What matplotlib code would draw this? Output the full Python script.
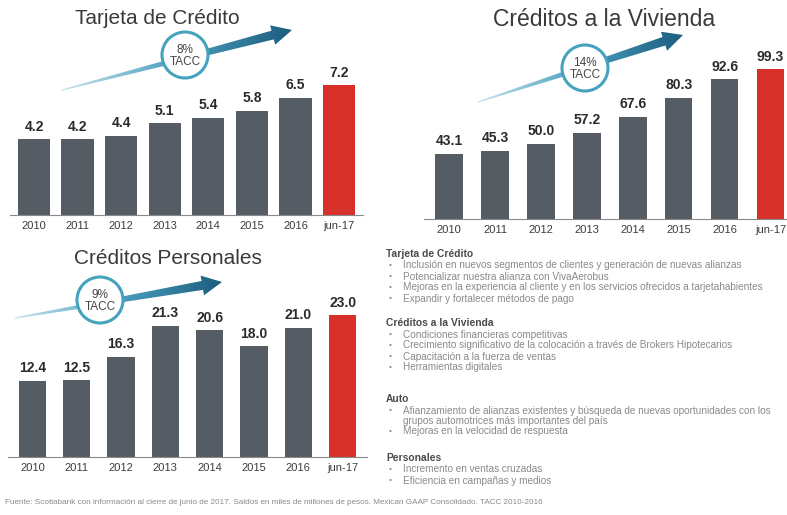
import matplotlib
matplotlib.use("Agg")
import matplotlib.pyplot as plt
import numpy as np
from matplotlib.patches import Polygon, Circle
from matplotlib.colors import LinearSegmentedColormap

plt.rcParams['font.family'] = ['Liberation Sans', 'DejaVu Sans']

# data (miles de millones de pesos)
years = ["2010", "2011", "2012", "2013", "2014", "2015", "2016", "jun-17"]
tarjeta = [4.2, 4.2, 4.4, 5.1, 5.4, 5.8, 6.5, 7.2]
vivienda = [43.1, 45.3, 50.0, 57.2, 67.6, 80.3, 92.6, 99.3]
personales = [12.4, 12.5, 16.3, 21.3, 20.6, 18.0, 21.0, 23.0]
tacc = ["8%", "14%", "9%"]

W, H = 787, 515
GRAY = "#565c63"
RED = "#d8312b"

fig = plt.figure(figsize=(W / 100, H / 100), dpi=100)


def box(l, t, r, b):
    return [l / W, 1 - b / H, (r - l) / W, (b - t) / H]


def bars(rect, vals, ymax, width, xmax=7.55):
    ax = fig.add_axes(rect)
    x = np.arange(len(vals))
    cols = [GRAY] * (len(vals) - 1) + [RED]
    ax.bar(x, vals, width=width, color=cols)
    for xi, v in zip(x, vals):
        ax.annotate(f"{v:.1f}", (xi, v), xytext=(0, 4), textcoords="offset points",
                    ha="center", va="bottom", fontsize=10, fontweight="bold", color="#2b2b2b")
    ax.set_xlim(-0.55, xmax)
    ax.set_ylim(0, ymax)
    ax.set_xticks(x)
    ax.set_xticklabels(years, fontsize=8, color="#3c3c3c")
    ax.tick_params(length=0, pad=4)
    ax.set_yticks([])
    for s in ["top", "right", "left"]:
        ax.spines[s].set_visible(False)
    ax.spines["bottom"].set_color("#8a8a8a")
    ax.spines["bottom"].set_linewidth(0.8)
    ax.patch.set_alpha(0)
    return ax


bars(box(10, 71, 363, 215), tarjeta, 8, 0.74)
bars(box(424, 53, 787, 219), vivienda, 110, 0.6, xmax=7.36)
bars(box(8, 297, 367, 457), personales, 26, 0.62)

# titles
fig.text(75 / W, 1 - 18 / H, "Tarjeta de Crédito", fontsize=15, color="#3a3a3a", va="center")
fig.text(604 / W, 1 - 20 / H, "Créditos a la Vivienda", fontsize=16.5, color="#3a3a3a",
         va="center", ha="center")
fig.text(74 / W, 1 - 258 / H, "Créditos Personales", fontsize=15, color="#3a3a3a", va="center")

# overlay for arrows / bubbles / text
ov = fig.add_axes([0, 0, 1, 1], zorder=5)
ov.axis("off")
ov.patch.set_alpha(0)

cmap = LinearSegmentedColormap.from_list("arr", ["#c3e3ec", "#4c9fbf", "#1b5d7e"])


def arrow(tail, tip, hw=10, hl=20, sw0=0.6, sw1=4.5):
    x0, y0 = tail
    x1, y1 = tip
    d = np.hypot(x1 - x0, y1 - y0)
    ux, uy = (x1 - x0) / d, (y1 - y0) / d
    nx, ny = -uy, ux
    bx, by = x1 - ux * hl, y1 - uy * hl
    pts = [(x0 + nx * sw0, y0 + ny * sw0), (bx + nx * sw1, by + ny * sw1),
           (bx + nx * hw, by + ny * hw), (x1, y1), (bx - nx * hw, by - ny * hw),
           (bx - nx * sw1, by - ny * sw1), (x0 - nx * sw0, y0 - ny * sw0)]
    poly = Polygon(pts, closed=True, facecolor="none", edgecolor="none")
    ov.add_patch(poly)
    xs = [p[0] for p in pts]
    ys = [p[1] for p in pts]
    grad = np.linspace(0, 1, 256).reshape(1, -1)
    im = ov.imshow(grad, extent=[min(xs), max(xs), max(ys), min(ys)], cmap=cmap,
                   aspect="auto", interpolation="bilinear")
    im.set_clip_path(poly)


def bubble(c, label):
    ov.add_patch(Circle(c, 23, facecolor="white", edgecolor="#45a3bd", lw=2.2, zorder=3))
    ov.text(c[0], c[1] + 1, label + "\nTACC", ha="center", va="center", fontsize=8.5,
            color="#444444", linespacing=1.0, zorder=4)


arrow((62, 90), (292, 30))
bubble((185, 55), tacc[0])
arrow((478, 102), (683, 35))
bubble((585, 68), tacc[1])
arrow((15, 318), (222, 282))
bubble((100, 300), tacc[2])
ov.set_xlim(0, W)
ov.set_ylim(H, 0)

# text block
sections = [
    ("Tarjeta de Crédito", 254, [
        "Inclusión en nuevos segmentos de clientes y generación de nuevas alianzas",
        "Potencializar nuestra alianza con VivaAerobus",
        "Mejoras en la experiencia al cliente y en los servicios ofrecidos a tarjetahabientes",
        "Expandir y fortalecer métodos de pago"]),
    ("Créditos a la Vivienda", 323, [
        "Condiciones financieras competitivas",
        "Crecimiento significativo de la colocación a través de Brokers Hipotecarios",
        "Capacitación a la fuerza de ventas",
        "Herramientas digitales"]),
    ("Auto", 399, [
        "Afianzamiento de alianzas existentes y búsqueda de nuevas oportunidades con los",
        "-grupos automotrices más importantes del país",
        "Mejoras en la velocidad de respuesta"]),
    ("Personales", 458, [
        "Incremento en ventas cruzadas",
        "Eficiencia en campañas y medios"]),
]
for head, y, items in sections:
    ov.text(386, y, head, fontsize=7.4, color="#4a4a4a", fontweight="bold", va="center")
    yy = y + 11.5
    for it in items:
        if it.startswith("-"):
            it = it[1:]
            yy -= 1
        else:
            ov.text(389, yy, "•", fontsize=6, color="#8a8a8a", va="center")
        ov.text(403, yy, it, fontsize=7.2, color="#8a8a8a", va="center")
        yy += 11

ov.text(5, 503, "Fuente: Scotiabank con información al cierre de junio de 2017. Saldos en miles de "
        "millones de pesos. Mexican GAAP Consolidado. TACC 2010-2016",
        fontsize=5.9, color="#8a8a8a", va="center")

fig.savefig("out.png", dpi=100)
